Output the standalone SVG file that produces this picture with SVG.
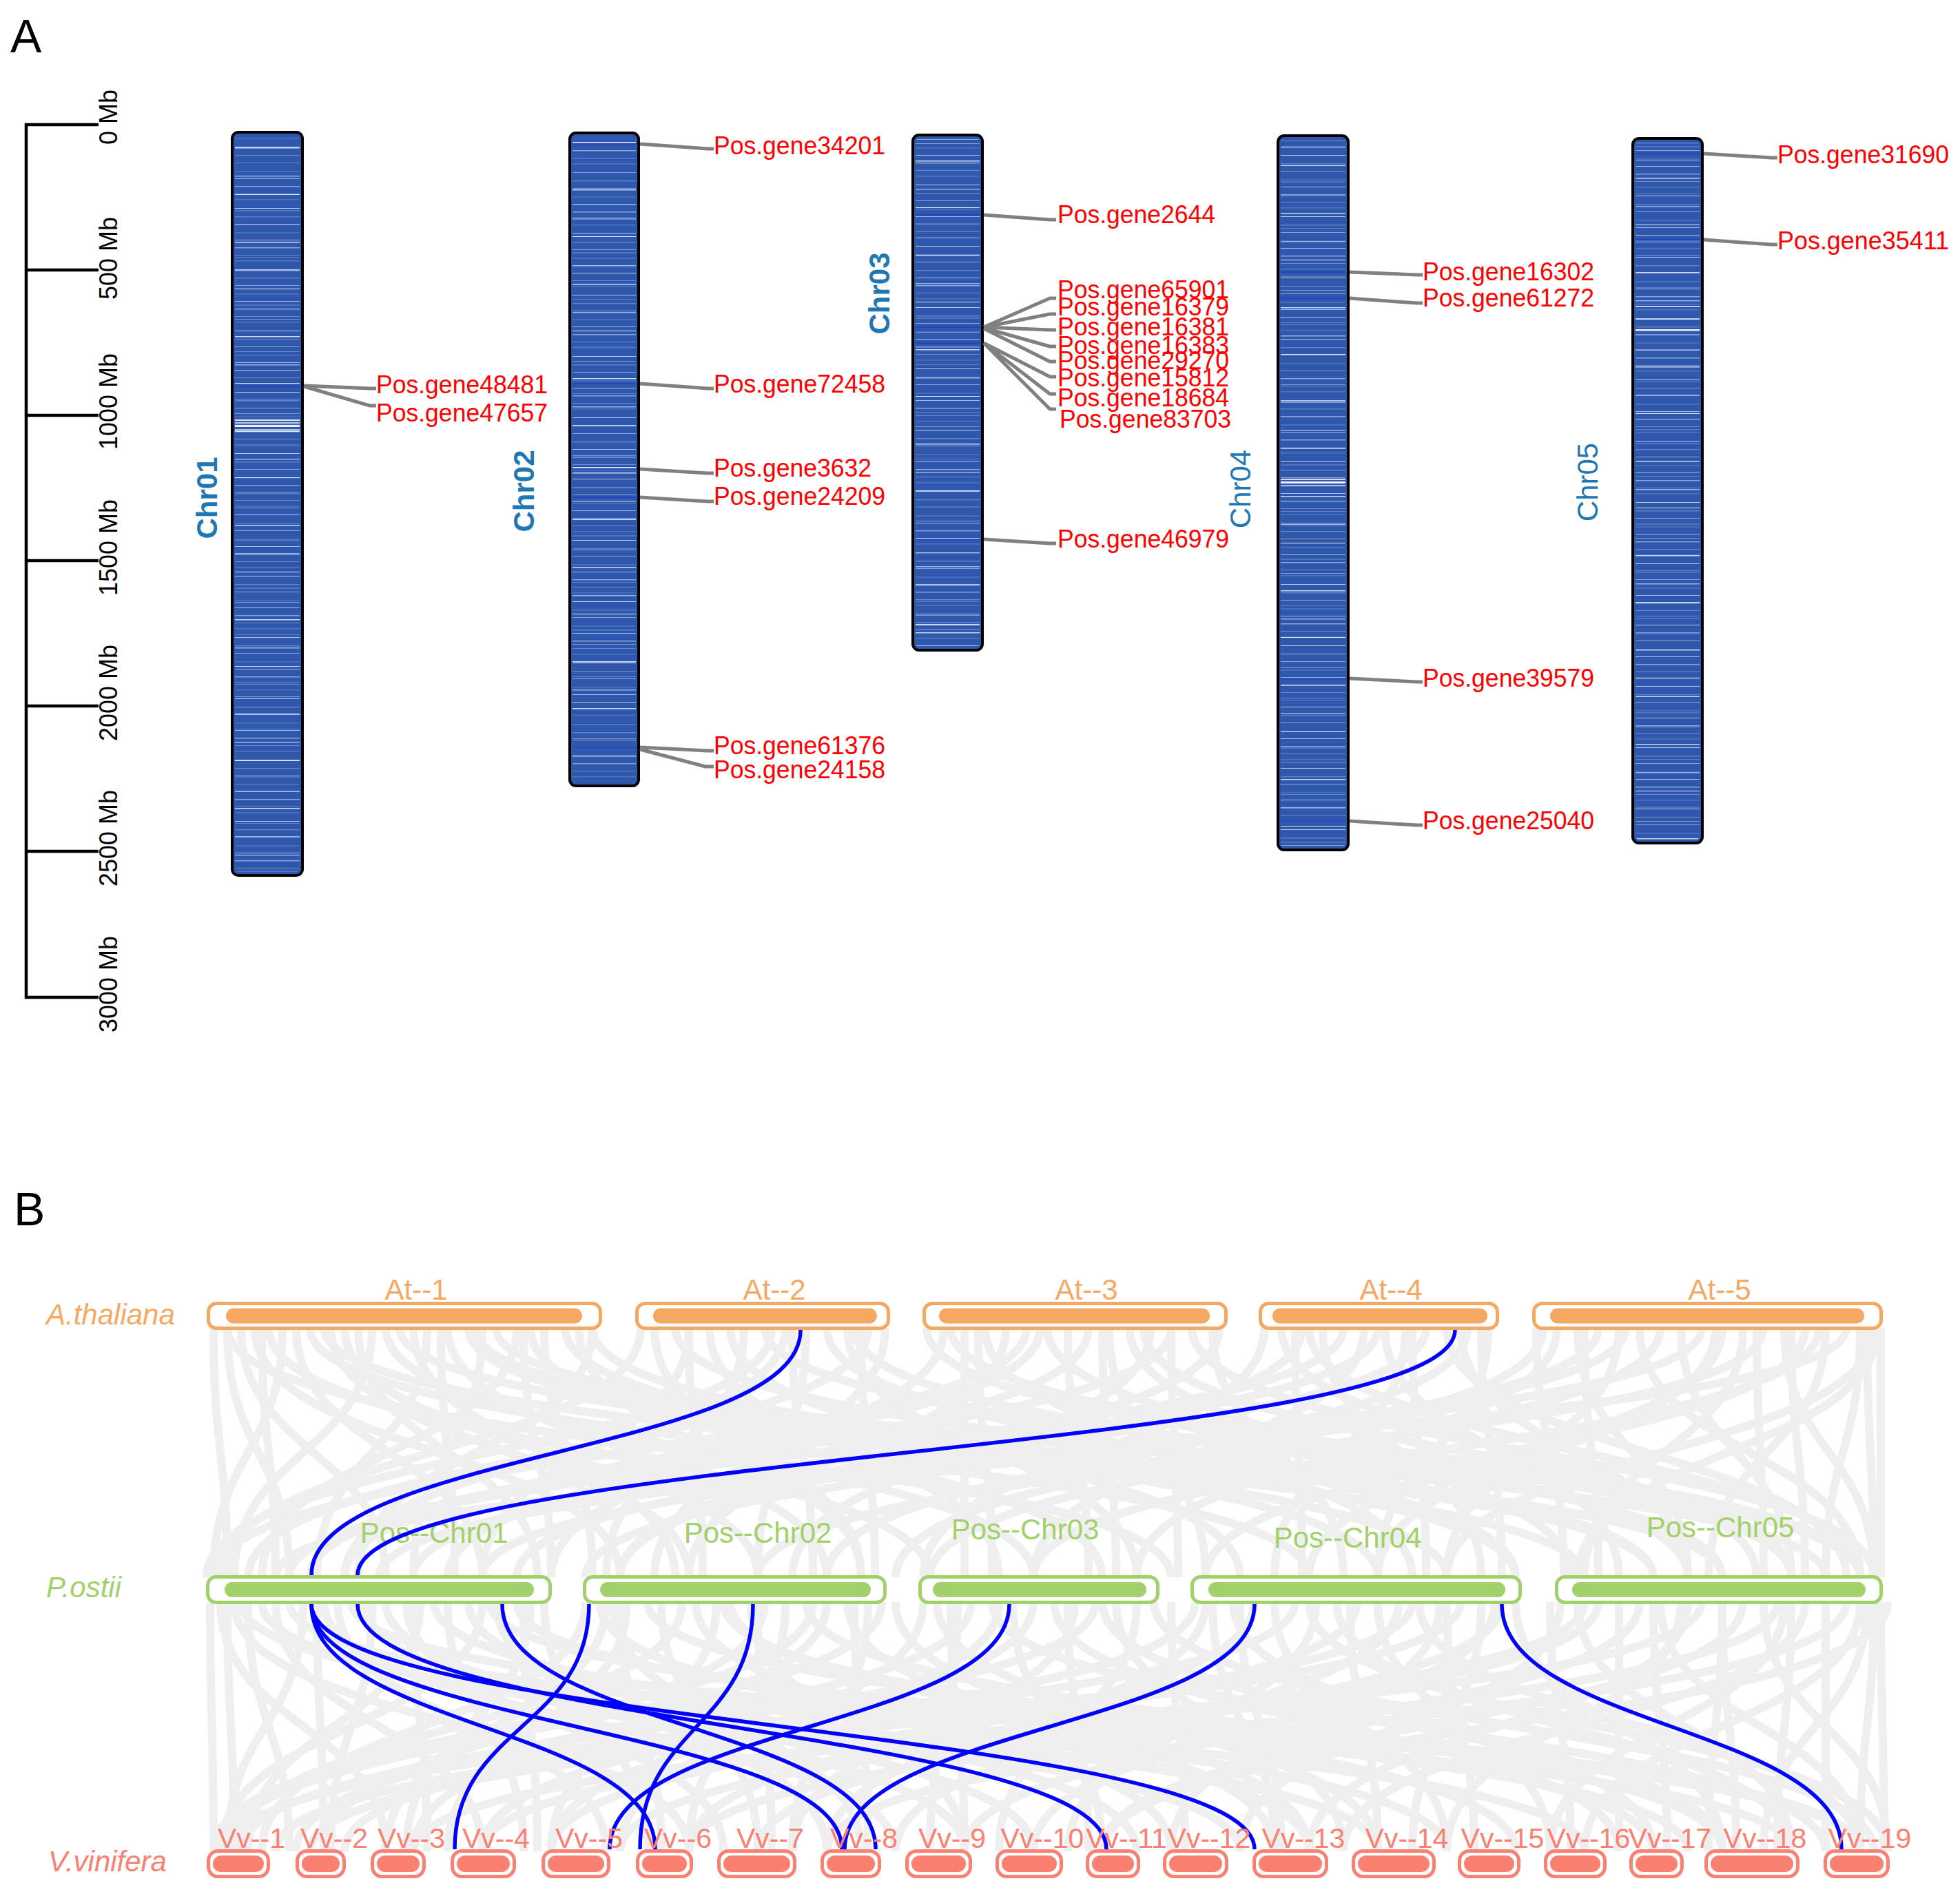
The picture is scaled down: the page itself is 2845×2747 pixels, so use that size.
<svg xmlns="http://www.w3.org/2000/svg" xmlns:xlink="http://www.w3.org/1999/xlink" width="2845" height="2747" viewBox="0 0 2845 2747">
<style>
text{font-family:"Liberation Sans",Arial,sans-serif}
.pl{font-size:68px;fill:#000}
.tk{font-size:36px;fill:#000}
.cb{font-size:42px;font-weight:bold;fill:#1F78B4}
.cn{font-size:42px;fill:#1F78B4}
.gn{font-size:37px;fill:#FF0000}
.chr{fill:#2F58AC;stroke:#000;stroke-width:4}
.loc{stroke:#1E3CD0;stroke-width:1.5}
.lk{fill:none;stroke:#808080;stroke-width:5;stroke-linejoin:round}
.gl{fill:none;stroke:#EFEFEF;stroke-width:12}
.bl{fill:none;stroke:#0000FF;stroke-width:5.5}
.sp{font-size:42px;font-style:italic}
.ato{fill:#fff;stroke:#F4A862;stroke-width:5}
.ati{fill:#F4A862}
.at{font-size:42px;fill:#F4A862;text-anchor:middle}
.pso{fill:#fff;stroke:#A2D06A;stroke-width:5}
.psi{fill:#A2D06A}
.ps{font-size:42px;fill:#A2D06A;text-anchor:middle}
.vvo{fill:#fff;stroke:#FA8072;stroke-width:5}
.vvi{fill:#FA8072}
.vv{font-size:41px;fill:#FA8072;text-anchor:middle}
</style>
<defs>
<pattern id="pa" patternUnits="userSpaceOnUse" width="20" height="89">
<rect y="3" width="20" height="1.5" fill="#8aa3da"/>
<rect y="14" width="20" height="1" fill="#6d8bcb"/>
<rect y="22" width="20" height="1.5" fill="#4f74bf"/>
<rect y="35" width="20" height="1" fill="#b9c9ec"/>
<rect y="47" width="20" height="1.5" fill="#5f81c6"/>
<rect y="58" width="20" height="1" fill="#8aa3da"/>
<rect y="70" width="20" height="2" fill="#476db9"/>
<rect y="81" width="20" height="1" fill="#a4b9e4"/>
</pattern>
<pattern id="pb" patternUnits="userSpaceOnUse" width="20" height="137">
<rect y="8" width="20" height="1" fill="#dbe4f5"/>
<rect y="31" width="20" height="2" fill="#4f74bf"/>
<rect y="52" width="20" height="1" fill="#7d98d2"/>
<rect y="77" width="20" height="1.5" fill="#c9d6f0"/>
<rect y="99" width="20" height="1" fill="#5f81c6"/>
<rect y="118" width="20" height="1.5" fill="#9db2e1"/>
</pattern>
<pattern id="pa2" xlink:href="#pa" patternTransform="translate(0,37)"/>
<pattern id="pb2" xlink:href="#pb" patternTransform="translate(0,61)"/>
<pattern id="pa3" xlink:href="#pa" patternTransform="translate(0,55)"/>
<pattern id="pb3" xlink:href="#pb" patternTransform="translate(0,19)"/>
<pattern id="pa4" xlink:href="#pa" patternTransform="translate(0,12)"/>
<pattern id="pb4" xlink:href="#pb" patternTransform="translate(0,95)"/>
<pattern id="pa5" xlink:href="#pa" patternTransform="translate(0,71)"/>
<pattern id="pb5" xlink:href="#pb" patternTransform="translate(0,44)"/>
</defs>
<rect width="2845" height="2747" fill="#fff"/>

<!-- Panel A -->
<text class="pl" x="15" y="76">A</text>
<g id="scale">
<path d="M143 181H38V1448H143M38 392H143M38 603H143M38 814H143M38 1025H143M38 1236H143" fill="none" stroke="#000" stroke-width="4.5"/>
<text class="tk" text-anchor="middle" transform="translate(170,170) rotate(-90)">0 Mb</text>
<text class="tk" text-anchor="middle" transform="translate(170,375) rotate(-90)">500 Mb</text>
<text class="tk" text-anchor="middle" transform="translate(170,583) rotate(-90)">1000 Mb</text>
<text class="tk" text-anchor="middle" transform="translate(170,795) rotate(-90)">1500 Mb</text>
<text class="tk" text-anchor="middle" transform="translate(170,1006) rotate(-90)">2000 Mb</text>
<text class="tk" text-anchor="middle" transform="translate(170,1217) rotate(-90)">2500 Mb</text>
<text class="tk" text-anchor="middle" transform="translate(170,1429) rotate(-90)">3000 Mb</text>
</g>

<g id="chr01">
<rect class="chr" x="337" y="192" width="102" height="1079" rx="9"/>
<rect x="341" y="197" width="94" height="1069" rx="5" fill="url(#pa)"/>
<rect x="341" y="197" width="94" height="1069" rx="5" fill="url(#pb)"/>
<rect x="341" y="609" width="94" height="2" fill="#dfe7f7"/>
<rect x="341" y="613" width="94" height="1.5" fill="#c5d3ee"/>
<rect x="341" y="617" width="94" height="3" fill="#e8eefa"/>
<rect x="341" y="623" width="94" height="1.5" fill="#b9c9ec"/>
<rect x="341" y="626" width="94" height="1" fill="#d7e0f4"/>
<line class="loc" x1="341" y1="561" x2="435" y2="561"/>
<text class="cb" text-anchor="middle" transform="translate(315,723) rotate(-90)">Chr01</text>
</g>

<g id="chr02">
<rect class="chr" x="827" y="193" width="100" height="948" rx="9"/>
<rect x="831" y="198" width="92" height="938" rx="5" fill="url(#pa2)"/>
<rect x="831" y="198" width="92" height="938" rx="5" fill="url(#pb2)"/>
<rect x="831" y="678" width="92" height="2" fill="#c9d6f0"/>
<line class="loc" x1="831" y1="209" x2="923" y2="209"/>
<line class="loc" x1="831" y1="557" x2="923" y2="557"/>
<line class="loc" x1="831" y1="681" x2="923" y2="681"/>
<line class="loc" x1="831" y1="722" x2="923" y2="722"/>
<line class="loc" x1="831" y1="1086" x2="923" y2="1086"/>
<text class="cb" text-anchor="middle" transform="translate(775,713) rotate(-90)">Chr02</text>
</g>

<g id="chr03">
<rect class="chr" x="1325" y="196" width="101" height="748" rx="9"/>
<rect x="1329" y="201" width="93" height="738" rx="5" fill="url(#pa3)"/>
<rect x="1329" y="201" width="93" height="738" rx="5" fill="url(#pb3)"/>
<rect x="1329" y="906" width="93" height="2" fill="#c9d6f0"/>
<line class="loc" x1="1329" y1="312" x2="1422" y2="312"/>
<line class="loc" x1="1329" y1="475" x2="1422" y2="475"/>
<line class="loc" x1="1329" y1="498" x2="1422" y2="498"/>
<line class="loc" x1="1329" y1="783" x2="1422" y2="783"/>
<text class="cb" text-anchor="middle" transform="translate(1291,426) rotate(-90)">Chr03</text>
</g>

<g id="chr04">
<rect class="chr" x="1855" y="197" width="102" height="1037" rx="9"/>
<rect x="1859" y="202" width="94" height="1027" rx="5" fill="url(#pa4)"/>
<rect x="1859" y="202" width="94" height="1027" rx="5" fill="url(#pb4)"/>
<rect x="1859" y="695" width="94" height="2" fill="#d3ddf3"/>
<rect x="1859" y="699" width="94" height="3" fill="#eef2fb"/>
<rect x="1859" y="704" width="94" height="1.5" fill="#c0cfee"/>
<line class="loc" x1="1859" y1="395" x2="1953" y2="395"/>
<line class="loc" x1="1859" y1="433" x2="1953" y2="433"/>
<line class="loc" x1="1859" y1="985" x2="1953" y2="985"/>
<line class="loc" x1="1859" y1="1192" x2="1953" y2="1192"/>
<text class="cn" text-anchor="middle" transform="translate(1815,710) rotate(-90)">Chr04</text>
</g>

<g id="chr05">
<rect class="chr" x="2370" y="201" width="101" height="1023" rx="9"/>
<rect x="2374" y="206" width="93" height="1013" rx="5" fill="url(#pa5)"/>
<rect x="2374" y="206" width="93" height="1013" rx="5" fill="url(#pb5)"/>
<rect x="2374" y="478" width="93" height="2.5" fill="#eef2fb"/>
<rect x="2374" y="444" width="93" height="2" fill="#b9c9ec"/>
<line class="loc" x1="2374" y1="223" x2="2467" y2="223"/>
<line class="loc" x1="2374" y1="348" x2="2467" y2="348"/>
<text class="cn" text-anchor="middle" transform="translate(2319,700) rotate(-90)">Chr05</text>
</g>

<g id="gene-connectors">
<path class="lk" d="M441 560L537 564H546M441 561L537 589H546"/>
<path class="lk" d="M929 209L1027 216H1036M929 557L1027 564H1036M929 681L1027 687H1036M929 722L1027 728H1036M929 1085L1027 1090H1036M929 1088L1024 1113H1036"/>
<path class="lk" d="M1428 312L1524 319H1533M1428 475L1524 433H1533M1428 475L1524 456H1533M1428 475L1524 479H1533M1428 476L1524 503H1533M1428 477L1524 525H1533M1428 498L1524 547H1533M1428 498L1524 572H1533M1428 498L1524 594H1533M1428 783L1524 789H1533"/>
<path class="lk" d="M1959 395L2056 399H2065M1959 433L2056 440H2065M1959 985L2056 990H2065M1959 1192L2056 1198H2065"/>
<path class="lk" d="M2473 223L2571 229H2580M2473 348L2571 355H2580"/>
</g>
<g id="gene-labels">
<text class="gn" x="546" y="571" textLength="249" lengthAdjust="spacingAndGlyphs">Pos.gene48481</text>
<text class="gn" x="546" y="612" textLength="249" lengthAdjust="spacingAndGlyphs">Pos.gene47657</text>
<text class="gn" x="1036" y="224" textLength="249" lengthAdjust="spacingAndGlyphs">Pos.gene34201</text>
<text class="gn" x="1036" y="570" textLength="249" lengthAdjust="spacingAndGlyphs">Pos.gene72458</text>
<text class="gn" x="1036" y="692" textLength="229" lengthAdjust="spacingAndGlyphs">Pos.gene3632</text>
<text class="gn" x="1036" y="733" textLength="249" lengthAdjust="spacingAndGlyphs">Pos.gene24209</text>
<text class="gn" x="1036" y="1095" textLength="249" lengthAdjust="spacingAndGlyphs">Pos.gene61376</text>
<text class="gn" x="1036" y="1130" textLength="249" lengthAdjust="spacingAndGlyphs">Pos.gene24158</text>
<text class="gn" x="1535" y="324" textLength="229" lengthAdjust="spacingAndGlyphs">Pos.gene2644</text>
<text class="gn" x="1535" y="433" textLength="249" lengthAdjust="spacingAndGlyphs">Pos.gene65901</text>
<text class="gn" x="1535" y="458" textLength="249" lengthAdjust="spacingAndGlyphs">Pos.gene16379</text>
<text class="gn" x="1535" y="487" textLength="249" lengthAdjust="spacingAndGlyphs">Pos.gene16381</text>
<text class="gn" x="1535" y="514" textLength="249" lengthAdjust="spacingAndGlyphs">Pos.gene16383</text>
<text class="gn" x="1535" y="536" textLength="249" lengthAdjust="spacingAndGlyphs">Pos.gene29270</text>
<text class="gn" x="1535" y="561" textLength="249" lengthAdjust="spacingAndGlyphs">Pos.gene15812</text>
<text class="gn" x="1535" y="590" textLength="249" lengthAdjust="spacingAndGlyphs">Pos.gene18684</text>
<text class="gn" x="1538" y="621" textLength="249" lengthAdjust="spacingAndGlyphs">Pos.gene83703</text>
<text class="gn" x="1535" y="795" textLength="249" lengthAdjust="spacingAndGlyphs">Pos.gene46979</text>
<text class="gn" x="2065" y="407" textLength="249" lengthAdjust="spacingAndGlyphs">Pos.gene16302</text>
<text class="gn" x="2065" y="445" textLength="249" lengthAdjust="spacingAndGlyphs">Pos.gene61272</text>
<text class="gn" x="2065" y="997" textLength="249" lengthAdjust="spacingAndGlyphs">Pos.gene39579</text>
<text class="gn" x="2065" y="1204" textLength="249" lengthAdjust="spacingAndGlyphs">Pos.gene25040</text>
<text class="gn" x="2580" y="237" textLength="249" lengthAdjust="spacingAndGlyphs">Pos.gene31690</text>
<text class="gn" x="2580" y="362" textLength="249" lengthAdjust="spacingAndGlyphs">Pos.gene35411</text>
</g>

<!-- Panel B -->
<text class="pl" x="20" y="1779">B</text>
<g id="links-gray">
<path class="gl" d="M310 1928C310 2109 330 2109 330 2290M330 1928C330 2109 420 2109 420 2290M350 1928C350 2109 560 2109 560 2290M370 1928C370 2109 900 2109 900 2290M390 1928C390 2109 1350 2109 1350 2290M410 1928C410 2109 310 2109 310 2290M430 1928C430 2109 700 2109 700 2290M450 1928C450 2109 1900 2109 1900 2290M470 1928C470 2109 2300 2109 2300 2290M500 1928C500 2109 1100 2109 1100 2290M520 1928C520 2109 780 2109 780 2290M540 1928C540 2109 340 2109 340 2290M560 1928C560 2109 1500 2109 1500 2290M580 1928C580 2109 2500 2109 2500 2290M600 1928C600 2109 980 2109 980 2290M620 1928C620 2109 460 2109 460 2290M650 1928C650 2109 1200 2109 1200 2290M680 1928C680 2109 2100 2109 2100 2290M700 1928C700 2109 600 2109 600 2290M720 1928C720 2109 2650 2109 2650 2290M750 1928C750 2109 380 2109 380 2290M770 1928C770 2109 1600 2109 1600 2290M790 1928C790 2109 860 2109 860 2290M820 1928C820 2109 2000 2109 2000 2290M840 1928C840 2109 1250 2109 1250 2290M860 1928C860 2109 520 2109 520 2290
M930 1928C930 2109 320 2109 320 2290M950 1928C950 2109 1250 2109 1250 2290M980 1928C980 2109 2400 2109 2400 2290M1000 1928C1000 2109 700 2109 700 2290M1030 1928C1030 2109 1450 2109 1450 2290M1060 1928C1060 2109 1800 2109 1800 2290M1080 1928C1080 2109 880 2109 880 2290M1110 1928C1110 2109 2700 2109 2700 2290M1140 1928C1140 2109 500 2109 500 2290M1170 1928C1170 2109 1100 2109 1100 2290M1200 1928C1200 2109 2200 2109 2200 2290M1230 1928C1230 2109 1650 2109 1650 2290M1260 1928C1260 2109 360 2109 360 2290M1285 1928C1285 2109 950 2109 950 2290
M1345 1928C1345 2109 2600 2109 2600 2290M1370 1928C1370 2109 800 2109 800 2290M1400 1928C1400 2109 1400 2109 1400 2290M1430 1928C1430 2109 2050 2109 2050 2290M1460 1928C1460 2109 1000 2109 1000 2290M1490 1928C1490 2109 310 2109 310 2290M1520 1928C1520 2109 2450 2109 2450 2290M1550 1928C1550 2109 1580 2109 1580 2290M1580 1928C1580 2109 650 2109 650 2290M1610 1928C1610 2109 1750 2109 1750 2290M1640 1928C1640 2109 2280 2109 2280 2290M1670 1928C1670 2109 1150 2109 1150 2290M1700 1928C1700 2109 450 2109 450 2290M1730 1928C1730 2109 2720 2109 2720 2290M1760 1928C1760 2109 1950 2109 1950 2290
M1835 1928C1835 2109 1340 2109 1340 2290M1860 1928C1860 2109 2550 2109 2550 2290M1890 1928C1890 2109 900 2109 900 2290M1920 1928C1920 2109 2150 2109 2150 2290M1950 1928C1950 2109 420 2109 420 2290M1980 1928C1980 2109 1500 2109 1500 2290M2010 1928C2010 2109 2350 2109 2350 2290M2040 1928C2040 2109 1850 2109 1850 2290M2070 1928C2070 2109 750 2109 750 2290M2100 1928C2100 2109 2680 2109 2680 2290M2130 1928C2130 2109 1200 2109 1200 2290M2160 1928C2160 2109 2000 2109 2000 2290
M2230 1928C2230 2109 2270 2109 2270 2290M2260 1928C2260 2109 1650 2109 1650 2290M2290 1928C2290 2109 2450 2109 2450 2290M2320 1928C2320 2109 850 2109 850 2290M2350 1928C2350 2109 2100 2109 2100 2290M2380 1928C2380 2109 2700 2109 2700 2290M2410 1928C2410 2109 1350 2109 1350 2290M2440 1928C2440 2109 2600 2109 2600 2290M2470 1928C2470 2109 550 2109 550 2290M2500 1928C2500 2109 1900 2109 1900 2290M2530 1928C2530 2109 2300 2109 2300 2290M2560 1928C2560 2109 1100 2109 1100 2290M2590 1928C2590 2109 2720 2109 2720 2290M2620 1928C2620 2109 1750 2109 1750 2290M2650 1928C2650 2109 2480 2109 2480 2290M2680 1928C2680 2109 400 2109 400 2290M2700 1928C2700 2109 2650 2109 2650 2290M2725 1928C2725 2109 2290 2109 2290 2290M2730 1928C2730 2109 2730 2109 2730 2290
M380 1928C380 2109 400 2109 400 2290M640 1928C640 2109 660 2109 660 2290M760 1928C760 2109 800 2109 800 2290M1000 1928C1000 2109 1020 2109 1020 2290M1150 1928C1150 2109 1180 2109 1180 2290M1250 1928C1250 2109 1270 2109 1270 2290M1420 1928C1420 2109 1440 2109 1440 2290M1600 1928C1600 2109 1620 2109 1620 2290M1700 1928C1700 2109 1710 2109 1710 2290M1880 1928C1880 2109 1890 2109 1890 2290M2050 1928C2050 2109 2070 2109 2070 2290M2150 1928C2150 2109 2180 2109 2180 2290M2300 1928C2300 2109 2320 2109 2320 2290M2550 1928C2550 2109 2560 2109 2560 2290M2600 1928C2600 2109 2620 2109 2620 2290M2710 1928C2710 2109 2720 2109 2720 2290
M330 1928C330 2109 1700 2109 1700 2290M480 1928C480 2109 1000 2109 1000 2290M690 1928C690 2109 2400 2109 2400 2290M860 1928C860 2109 2200 2109 2200 2290M1120 1928C1120 2109 300 2109 300 2290M1240 1928C1240 2109 2500 2109 2500 2290M1380 1928C1380 2109 2700 2109 2700 2290M1510 1928C1510 2109 500 2109 500 2290M1660 1928C1660 2109 2600 2109 2600 2290M1770 1928C1770 2109 900 2109 900 2290M1900 1928C1900 2109 2700 2109 2700 2290M2000 1928C2000 2109 600 2109 600 2290M2120 1928C2120 2109 2450 2109 2450 2290M2240 1928C2240 2109 1300 2109 1300 2290M2360 1928C2360 2109 700 2109 700 2290M2490 1928C2490 2109 2000 2109 2000 2290M2640 1928C2640 2109 1500 2109 1500 2290M2720 1928C2720 2109 2100 2109 2100 2290"/>
<path class="gl" d="M305 2326C305 2506 310 2506 310 2688M320 2326C320 2506 560 2506 560 2688M340 2326C340 2506 1000 2506 1000 2688M360 2326C360 2506 420 2506 420 2688M380 2326C380 2506 1800 2506 1800 2688M400 2326C400 2506 700 2506 700 2688M420 2326C420 2506 2300 2506 2300 2688M440 2326C440 2506 330 2506 330 2688M470 2326C470 2506 1300 2506 1300 2688M490 2326C490 2506 880 2506 880 2688M510 2326C510 2506 2600 2506 2600 2688M540 2326C540 2506 480 2506 480 2688M560 2326C560 2506 1500 2506 1500 2688M590 2326C590 2506 1050 2506 1050 2688M610 2326C610 2506 360 2506 360 2688M630 2326C630 2506 2100 2506 2100 2688M650 2326C650 2506 760 2506 760 2688M680 2326C680 2506 1650 2506 1650 2688M700 2326C700 2506 320 2506 320 2688M720 2326C720 2506 1200 2506 1200 2688M750 2326C750 2506 2450 2506 2450 2688M770 2326C770 2506 590 2506 590 2688M790 2326C790 2506 940 2506 940 2688
M850 2326C850 2506 380 2506 380 2688M870 2326C870 2506 1900 2506 1900 2688M890 2326C890 2506 1250 2506 1250 2688M910 2326C910 2506 650 2506 650 2688M940 2326C940 2506 2700 2506 2700 2688M960 2326C960 2506 1100 2506 1100 2688M990 2326C990 2506 340 2506 340 2688M1010 2326C1010 2506 1700 2506 1700 2688M1040 2326C1040 2506 800 2506 800 2688M1060 2326C1060 2506 2200 2506 2200 2688M1090 2326C1090 2506 1400 2506 1400 2688M1110 2326C1110 2506 470 2506 470 2688M1140 2326C1140 2506 1000 2506 1000 2688M1170 2326C1170 2506 2500 2506 2500 2688M1200 2326C1200 2506 600 2506 600 2688M1230 2326C1230 2506 1850 2506 1850 2688M1260 2326C1260 2506 1150 2506 1150 2688M1280 2326C1280 2506 320 2506 320 2688
M1340 2326C1340 2506 900 2506 900 2688M1360 2326C1360 2506 2000 2506 2000 2688M1390 2326C1390 2506 1350 2506 1350 2688M1410 2326C1410 2506 430 2506 430 2688M1440 2326C1440 2506 2650 2506 2650 2688M1470 2326C1470 2506 1600 2506 1600 2688M1500 2326C1500 2506 700 2506 700 2688M1530 2326C1530 2506 2350 2506 2350 2688M1560 2326C1560 2506 1150 2506 1150 2688M1590 2326C1590 2506 350 2506 350 2688M1620 2326C1620 2506 1950 2506 1950 2688M1650 2326C1650 2506 1450 2506 1450 2688M1675 2326C1675 2506 2720 2506 2720 2688
M1735 2326C1735 2506 500 2506 500 2688M1760 2326C1760 2506 1850 2506 1850 2688M1790 2326C1790 2506 2400 2506 2400 2688M1820 2326C1820 2506 1000 2506 1000 2688M1850 2326C1850 2506 2100 2506 2100 2688M1880 2326C1880 2506 330 2506 330 2688M1910 2326C1910 2506 1550 2506 1550 2688M1940 2326C1940 2506 2600 2506 2600 2688M1970 2326C1970 2506 800 2506 800 2688M2000 2326C2000 2506 2250 2506 2250 2688M2030 2326C2030 2506 1300 2506 1300 2688M2060 2326C2060 2506 2700 2506 2700 2688M2090 2326C2090 2506 1700 2506 1700 2688M2120 2326C2120 2506 450 2506 450 2688M2150 2326C2150 2506 2050 2506 2050 2688M2180 2326C2180 2506 1100 2506 1100 2688M2200 2326C2200 2506 2500 2506 2500 2688
M2265 2326C2265 2506 1800 2506 1800 2688M2290 2326C2290 2506 2600 2506 2600 2688M2320 2326C2320 2506 900 2506 900 2688M2350 2326C2350 2506 2350 2506 2350 2688M2380 2326C2380 2506 1400 2506 1400 2688M2410 2326C2410 2506 2700 2506 2700 2688M2440 2326C2440 2506 2100 2506 2100 2688M2470 2326C2470 2506 600 2506 600 2688M2500 2326C2500 2506 2480 2506 2480 2688M2530 2326C2530 2506 1600 2506 1600 2688M2560 2326C2560 2506 2740 2506 2740 2688M2590 2326C2590 2506 2250 2506 2250 2688M2620 2326C2620 2506 1950 2506 1950 2688M2650 2326C2650 2506 2650 2506 2650 2688M2680 2326C2680 2506 1200 2506 1200 2688M2710 2326C2710 2506 2560 2506 2560 2688M2730 2326C2730 2506 2735 2506 2735 2688
M330 2326C330 2506 340 2506 340 2688M460 2326C460 2506 470 2506 470 2688M600 2326C600 2506 620 2506 620 2688M760 2326C760 2506 780 2506 780 2688M900 2326C900 2506 960 2506 960 2688M1100 2326C1100 2506 1120 2506 1120 2688M1240 2326C1240 2506 1260 2506 1260 2688M1380 2326C1380 2506 1400 2506 1400 2688M1550 2326C1550 2506 1580 2506 1580 2688M1700 2326C1700 2506 1720 2506 1720 2688M1800 2326C1800 2506 1860 2506 1860 2688M1960 2326C1960 2506 2000 2506 2000 2688M2100 2326C2100 2506 2140 2506 2140 2688M2250 2326C2250 2506 2280 2506 2280 2688M2400 2326C2400 2506 2420 2506 2420 2688M2500 2326C2500 2506 2520 2506 2520 2688M2600 2326C2600 2506 2580 2506 2580 2688M2720 2326C2720 2506 2700 2506 2700 2688
M350 2326C350 2506 2000 2506 2000 2688M530 2326C530 2506 1400 2506 1400 2688M710 2326C710 2506 2700 2506 2700 2688M880 2326C880 2506 560 2506 560 2688M1050 2326C1050 2506 2400 2506 2400 2688M1180 2326C1180 2506 310 2506 310 2688M1300 2326C1300 2506 1900 2506 1900 2688M1450 2326C1450 2506 800 2506 800 2688M1600 2326C1600 2506 2500 2506 2500 2688M1750 2326C1750 2506 1200 2506 1200 2688M1900 2326C1900 2506 2740 2506 2740 2688M2050 2326C2050 2506 400 2506 400 2688M2170 2326C2170 2506 1500 2506 1500 2688M2300 2326C2300 2506 700 2506 700 2688M2450 2326C2450 2506 1900 2506 1900 2688M2580 2326C2580 2506 1000 2506 1000 2688M2700 2326C2700 2506 2300 2506 2300 2688M2740 2326C2740 2506 1600 2506 1600 2688"/>
</g>

<g id="species-labels">
<text class="sp" x="67" y="1923" fill="#F4A862">A.thaliana</text>
<text class="sp" x="67" y="2319" fill="#A2D06A">P.ostii</text>
<text class="sp" x="70" y="2717" fill="#FA8072">V.vinifera</text>
</g>

<g id="chrom-labels">
<text class="at" x="604" y="1887">At--1</text>
<text class="at" x="1124" y="1887">At--2</text>
<text class="at" x="1577" y="1887">At--3</text>
<text class="at" x="2019" y="1887">At--4</text>
<text class="at" x="2496" y="1887">At--5</text>
<text class="ps" x="630" y="2240">Pos--Chr01</text>
<text class="ps" x="1100" y="2240">Pos--Chr02</text>
<text class="ps" x="1488" y="2235">Pos--Chr03</text>
<text class="ps" x="1956" y="2247">Pos--Chr04</text>
<text class="ps" x="2497" y="2232">Pos--Chr05</text>
</g>

<g id="links-blue">
<path class="bl" d="M1162 1931C1162 2109 452 2109 452 2287"/>
<path class="bl" d="M2112 1931C2112 2109 519 2109 519 2287"/>
<path class="bl" d="M452 2329C452 2507 951 2507 951 2685"/>
<path class="bl" d="M452 2329C452 2507 1222 2507 1222 2685"/>
<path class="bl" d="M452 2329C452 2507 1821 2507 1821 2685"/>
<path class="bl" d="M519 2329C519 2507 1606 2507 1606 2685"/>
<path class="bl" d="M729 2329C729 2507 1271 2507 1271 2685"/>
<path class="bl" d="M855 2329C855 2507 660 2507 660 2685"/>
<path class="bl" d="M1093 2329C1093 2507 929 2507 929 2685"/>
<path class="bl" d="M1465 2329C1465 2507 885 2507 885 2685"/>
<path class="bl" d="M1821 2329C1821 2507 1226 2507 1226 2685"/>
<path class="bl" d="M2180 2329C2180 2507 2673 2507 2673 2685"/>
</g>

<g id="At-1"><rect class="ato" x="302.5" y="1892.5" width="569" height="36" rx="12"/><rect class="ati" x="328" y="1899.5" width="517" height="22" rx="11"/></g>
<g id="At-2"><rect class="ato" x="924.5" y="1892.5" width="365" height="36" rx="12"/><rect class="ati" x="948" y="1899.5" width="325" height="22" rx="11"/></g>
<g id="At-3"><rect class="ato" x="1341.5" y="1892.5" width="438" height="36" rx="12"/><rect class="ati" x="1363" y="1899.5" width="393" height="22" rx="11"/></g>
<g id="At-4"><rect class="ato" x="1829.5" y="1892.5" width="344" height="36" rx="12"/><rect class="ati" x="1847" y="1899.5" width="312" height="22" rx="11"/></g>
<g id="At-5"><rect class="ato" x="2226.5" y="1892.5" width="504" height="36" rx="12"/><rect class="ati" x="2250" y="1899.5" width="456" height="22" rx="11"/></g>

<g id="Pos-Chr01"><rect class="pso" x="301.5" y="2289.5" width="497" height="37" rx="12"/><rect class="psi" x="326" y="2297" width="449" height="22" rx="11"/></g>
<g id="Pos-Chr02"><rect class="pso" x="848.5" y="2289.5" width="436" height="37" rx="12"/><rect class="psi" x="871" y="2297" width="393" height="22" rx="11"/></g>
<g id="Pos-Chr03"><rect class="pso" x="1335.5" y="2289.5" width="345" height="37" rx="12"/><rect class="psi" x="1354" y="2297" width="310" height="22" rx="11"/></g>
<g id="Pos-Chr04"><rect class="pso" x="1730.5" y="2289.5" width="476" height="37" rx="12"/><rect class="psi" x="1754" y="2297" width="431" height="22" rx="11"/></g>
<g id="Pos-Chr05"><rect class="pso" x="2259.5" y="2289.5" width="471" height="37" rx="12"/><rect class="psi" x="2282" y="2297" width="426" height="22" rx="11"/></g>

<g id="Vv-1"><rect class="vvo" x="302.5" y="2687.5" width="87" height="37" rx="14"/><rect class="vvi" x="309" y="2694" width="74" height="24" rx="12"/><text class="vv" x="365" y="2683">Vv--1</text></g>
<g id="Vv-2"><rect class="vvo" x="431.5" y="2687.5" width="68" height="37" rx="14"/><rect class="vvi" x="438" y="2694" width="55" height="24" rx="12"/><text class="vv" x="485" y="2683">Vv--2</text></g>
<g id="Vv-3"><rect class="vvo" x="540.5" y="2687.5" width="75" height="37" rx="14"/><rect class="vvi" x="547" y="2694" width="62" height="24" rx="12"/><text class="vv" x="597" y="2683">Vv--3</text></g>
<g id="Vv-4"><rect class="vvo" x="656.5" y="2687.5" width="90" height="37" rx="14"/><rect class="vvi" x="663" y="2694" width="77" height="24" rx="12"/><text class="vv" x="720" y="2683">Vv--4</text></g>
<g id="Vv-5"><rect class="vvo" x="788.5" y="2687.5" width="95" height="37" rx="14"/><rect class="vvi" x="795" y="2694" width="82" height="24" rx="12"/><text class="vv" x="855" y="2683">Vv--5</text></g>
<g id="Vv-6"><rect class="vvo" x="925.5" y="2687.5" width="78" height="37" rx="14"/><rect class="vvi" x="932" y="2694" width="65" height="24" rx="12"/><text class="vv" x="984" y="2683">Vv--6</text></g>
<g id="Vv-7"><rect class="vvo" x="1043.5" y="2687.5" width="110" height="37" rx="14"/><rect class="vvi" x="1050" y="2694" width="97" height="24" rx="12"/><text class="vv" x="1118" y="2683">Vv--7</text></g>
<g id="Vv-8"><rect class="vvo" x="1193.5" y="2687.5" width="83" height="37" rx="14"/><rect class="vvi" x="1200" y="2694" width="70" height="24" rx="12"/><text class="vv" x="1254" y="2683">Vv--8</text></g>
<g id="Vv-9"><rect class="vvo" x="1316.5" y="2687.5" width="92" height="37" rx="14"/><rect class="vvi" x="1323" y="2694" width="79" height="24" rx="12"/><text class="vv" x="1382" y="2683">Vv--9</text></g>
<g id="Vv-10"><rect class="vvo" x="1447.5" y="2687.5" width="93" height="37" rx="14"/><rect class="vvi" x="1454" y="2694" width="80" height="24" rx="12"/><text class="vv" x="1513" y="2683">Vv--10</text></g>
<g id="Vv-11"><rect class="vvo" x="1578.5" y="2687.5" width="74" height="37" rx="14"/><rect class="vvi" x="1585" y="2694" width="61" height="24" rx="12"/><text class="vv" x="1635" y="2683">Vv--11</text></g>
<g id="Vv-12"><rect class="vvo" x="1690.5" y="2687.5" width="90" height="37" rx="14"/><rect class="vvi" x="1697" y="2694" width="77" height="24" rx="12"/><text class="vv" x="1755" y="2683">Vv--12</text></g>
<g id="Vv-13"><rect class="vvo" x="1820.5" y="2687.5" width="105" height="37" rx="14"/><rect class="vvi" x="1827" y="2694" width="92" height="24" rx="12"/><text class="vv" x="1892" y="2683">Vv--13</text></g>
<g id="Vv-14"><rect class="vvo" x="1964.5" y="2687.5" width="117" height="37" rx="14"/><rect class="vvi" x="1971" y="2694" width="104" height="24" rx="12"/><text class="vv" x="2042" y="2683">Vv--14</text></g>
<g id="Vv-15"><rect class="vvo" x="2118.5" y="2687.5" width="86" height="37" rx="14"/><rect class="vvi" x="2125" y="2694" width="73" height="24" rx="12"/><text class="vv" x="2181" y="2683">Vv--15</text></g>
<g id="Vv-16"><rect class="vvo" x="2243.5" y="2687.5" width="86" height="37" rx="14"/><rect class="vvi" x="2250" y="2694" width="73" height="24" rx="12"/><text class="vv" x="2306" y="2683">Vv--16</text></g>
<g id="Vv-17"><rect class="vvo" x="2367.5" y="2687.5" width="74" height="37" rx="14"/><rect class="vvi" x="2374" y="2694" width="61" height="24" rx="12"/><text class="vv" x="2424" y="2683">Vv--17</text></g>
<g id="Vv-18"><rect class="vvo" x="2476.5" y="2687.5" width="133" height="37" rx="14"/><rect class="vvi" x="2483" y="2694" width="120" height="24" rx="12"/><text class="vv" x="2562" y="2683">Vv--18</text></g>
<g id="Vv-19"><rect class="vvo" x="2649.5" y="2687.5" width="91" height="37" rx="14"/><rect class="vvi" x="2656" y="2694" width="78" height="24" rx="12"/><text class="vv" x="2714" y="2683">Vv--19</text></g>
</svg>
